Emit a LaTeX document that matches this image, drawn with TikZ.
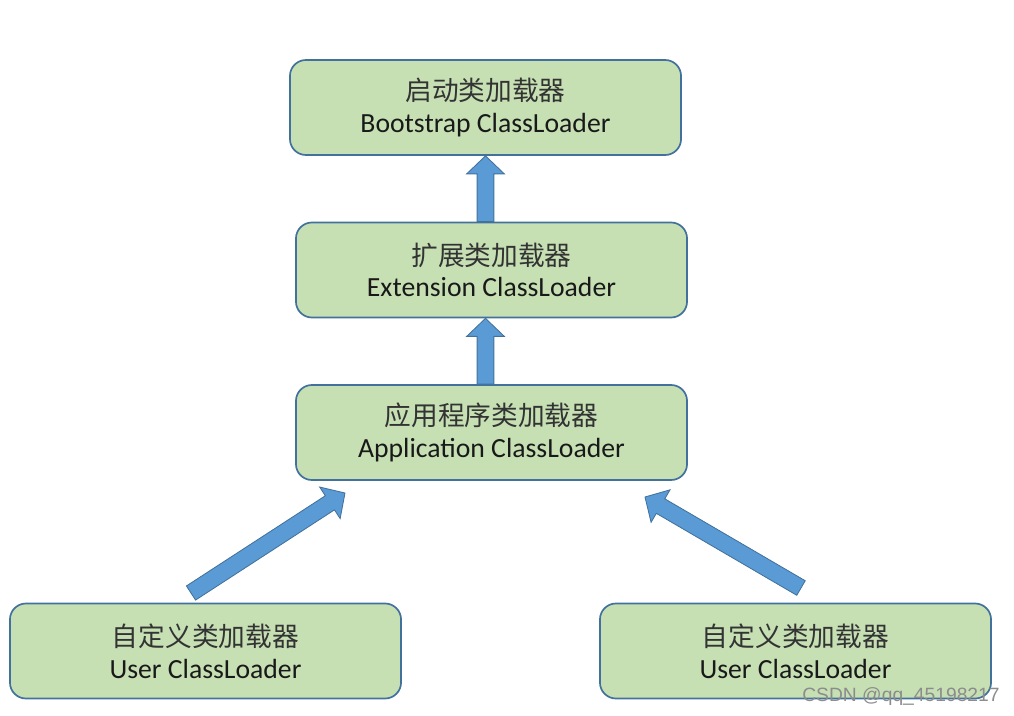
\documentclass[tikz,border=0pt]{standalone}
\usepackage{fontspec}
\setmainfont{Carlito}
\newfontfamily\cjk{Noto Sans CJK SC}
\newfontfamily\filfont{Liberation Sans}
\usetikzlibrary{calc}
\definecolor{vertboite}{HTML}{C6E0B4}
\definecolor{bordboite}{HTML}{41719C}
\definecolor{bleufleche}{HTML}{5B9BD5}
\begin{document}
\begin{tikzpicture}[x=0.025cm,y=-0.025cm]
		\tikzstyle{boite}=[draw=bordboite,fill=vertboite,line width=1.2pt,rounded corners=0.4cm,minimum width=9.775cm,minimum height=2.375cm,align=center,text=black!90,font=\fontsize{19.7}{22.5}\selectfont]
		\tikzstyle{fleche}=[draw=bordboite,fill=bleufleche,line width=0.6pt,line join=miter]
		\def\DemiCorps{0.21cm}
		\def\DemiTete{0.47cm}
		\def\LongTete{0.45cm}
		\def\Titre#1#2{{\cjk\fontsize{19}{22.5}\selectfont\color{black!80}#1}\\#2}
		\def\GrosseFleche#1#2{%
			\coordinate (#2-base) at ($(#2)!\LongTete!(#1)$);
			\draw[fleche] ($(#1)!\DemiCorps!90:(#2)$) -- ($(#2-base)!\DemiCorps!90:(#2)$) -- ($(#2-base)!\DemiTete!90:(#2)$) -- (#2) -- ($(#2-base)!\DemiTete!-90:(#2)$) -- ($(#2-base)!\DemiCorps!-90:(#2)$) -- ($(#1)!\DemiCorps!-90:(#2)$) -- cycle;}
		\useasboundingbox (0,0) rectangle (1014,716);
		\node[boite] (Boot) at (485.5,107.5) {\Titre{启动类加载器}{Bootstrap ClassLoader}};
		\node[boite] (Ext) at (491.5,270) {\Titre{扩展类加载器}{Extension ClassLoader}};
		\node[boite] (Appli) at (491.5,432.5) {\Titre{应用程序类加载器}{Application ClassLoader}};
		\node[boite] (UserA) at (205.5,651) {\Titre{自定义类加载器}{User ClassLoader}};
		\node[boite] (UserB) at (795.5,651) {\Titre{自定义类加载器}{User ClassLoader}};
		\coordinate (BootBas) at (Boot.south);
		\coordinate (ExtHaut) at (Ext.north -| Boot.south);
		\coordinate (ExtBas) at (Ext.south -| Boot.south);
		\coordinate (AppliHaut) at (Appli.north -| Boot.south);
		\coordinate (AppliG) at (345,493);
		\coordinate (AppliD) at (645,497);
		\coordinate (UserAQueue) at (191,593);
		\coordinate (UserBQueue) at (801,588);
		\GrosseFleche{ExtHaut}{BootBas}
		\GrosseFleche{AppliHaut}{ExtBas}
		\GrosseFleche{UserAQueue}{AppliG}
		\GrosseFleche{UserBQueue}{AppliD}
		\node[text=black!45,font=\filfont\fontsize{13.7}{16}\selectfont] (Filigrane) at (901,697) {CSDN @qq\_45198217};
	\end{tikzpicture}
\end{document}
